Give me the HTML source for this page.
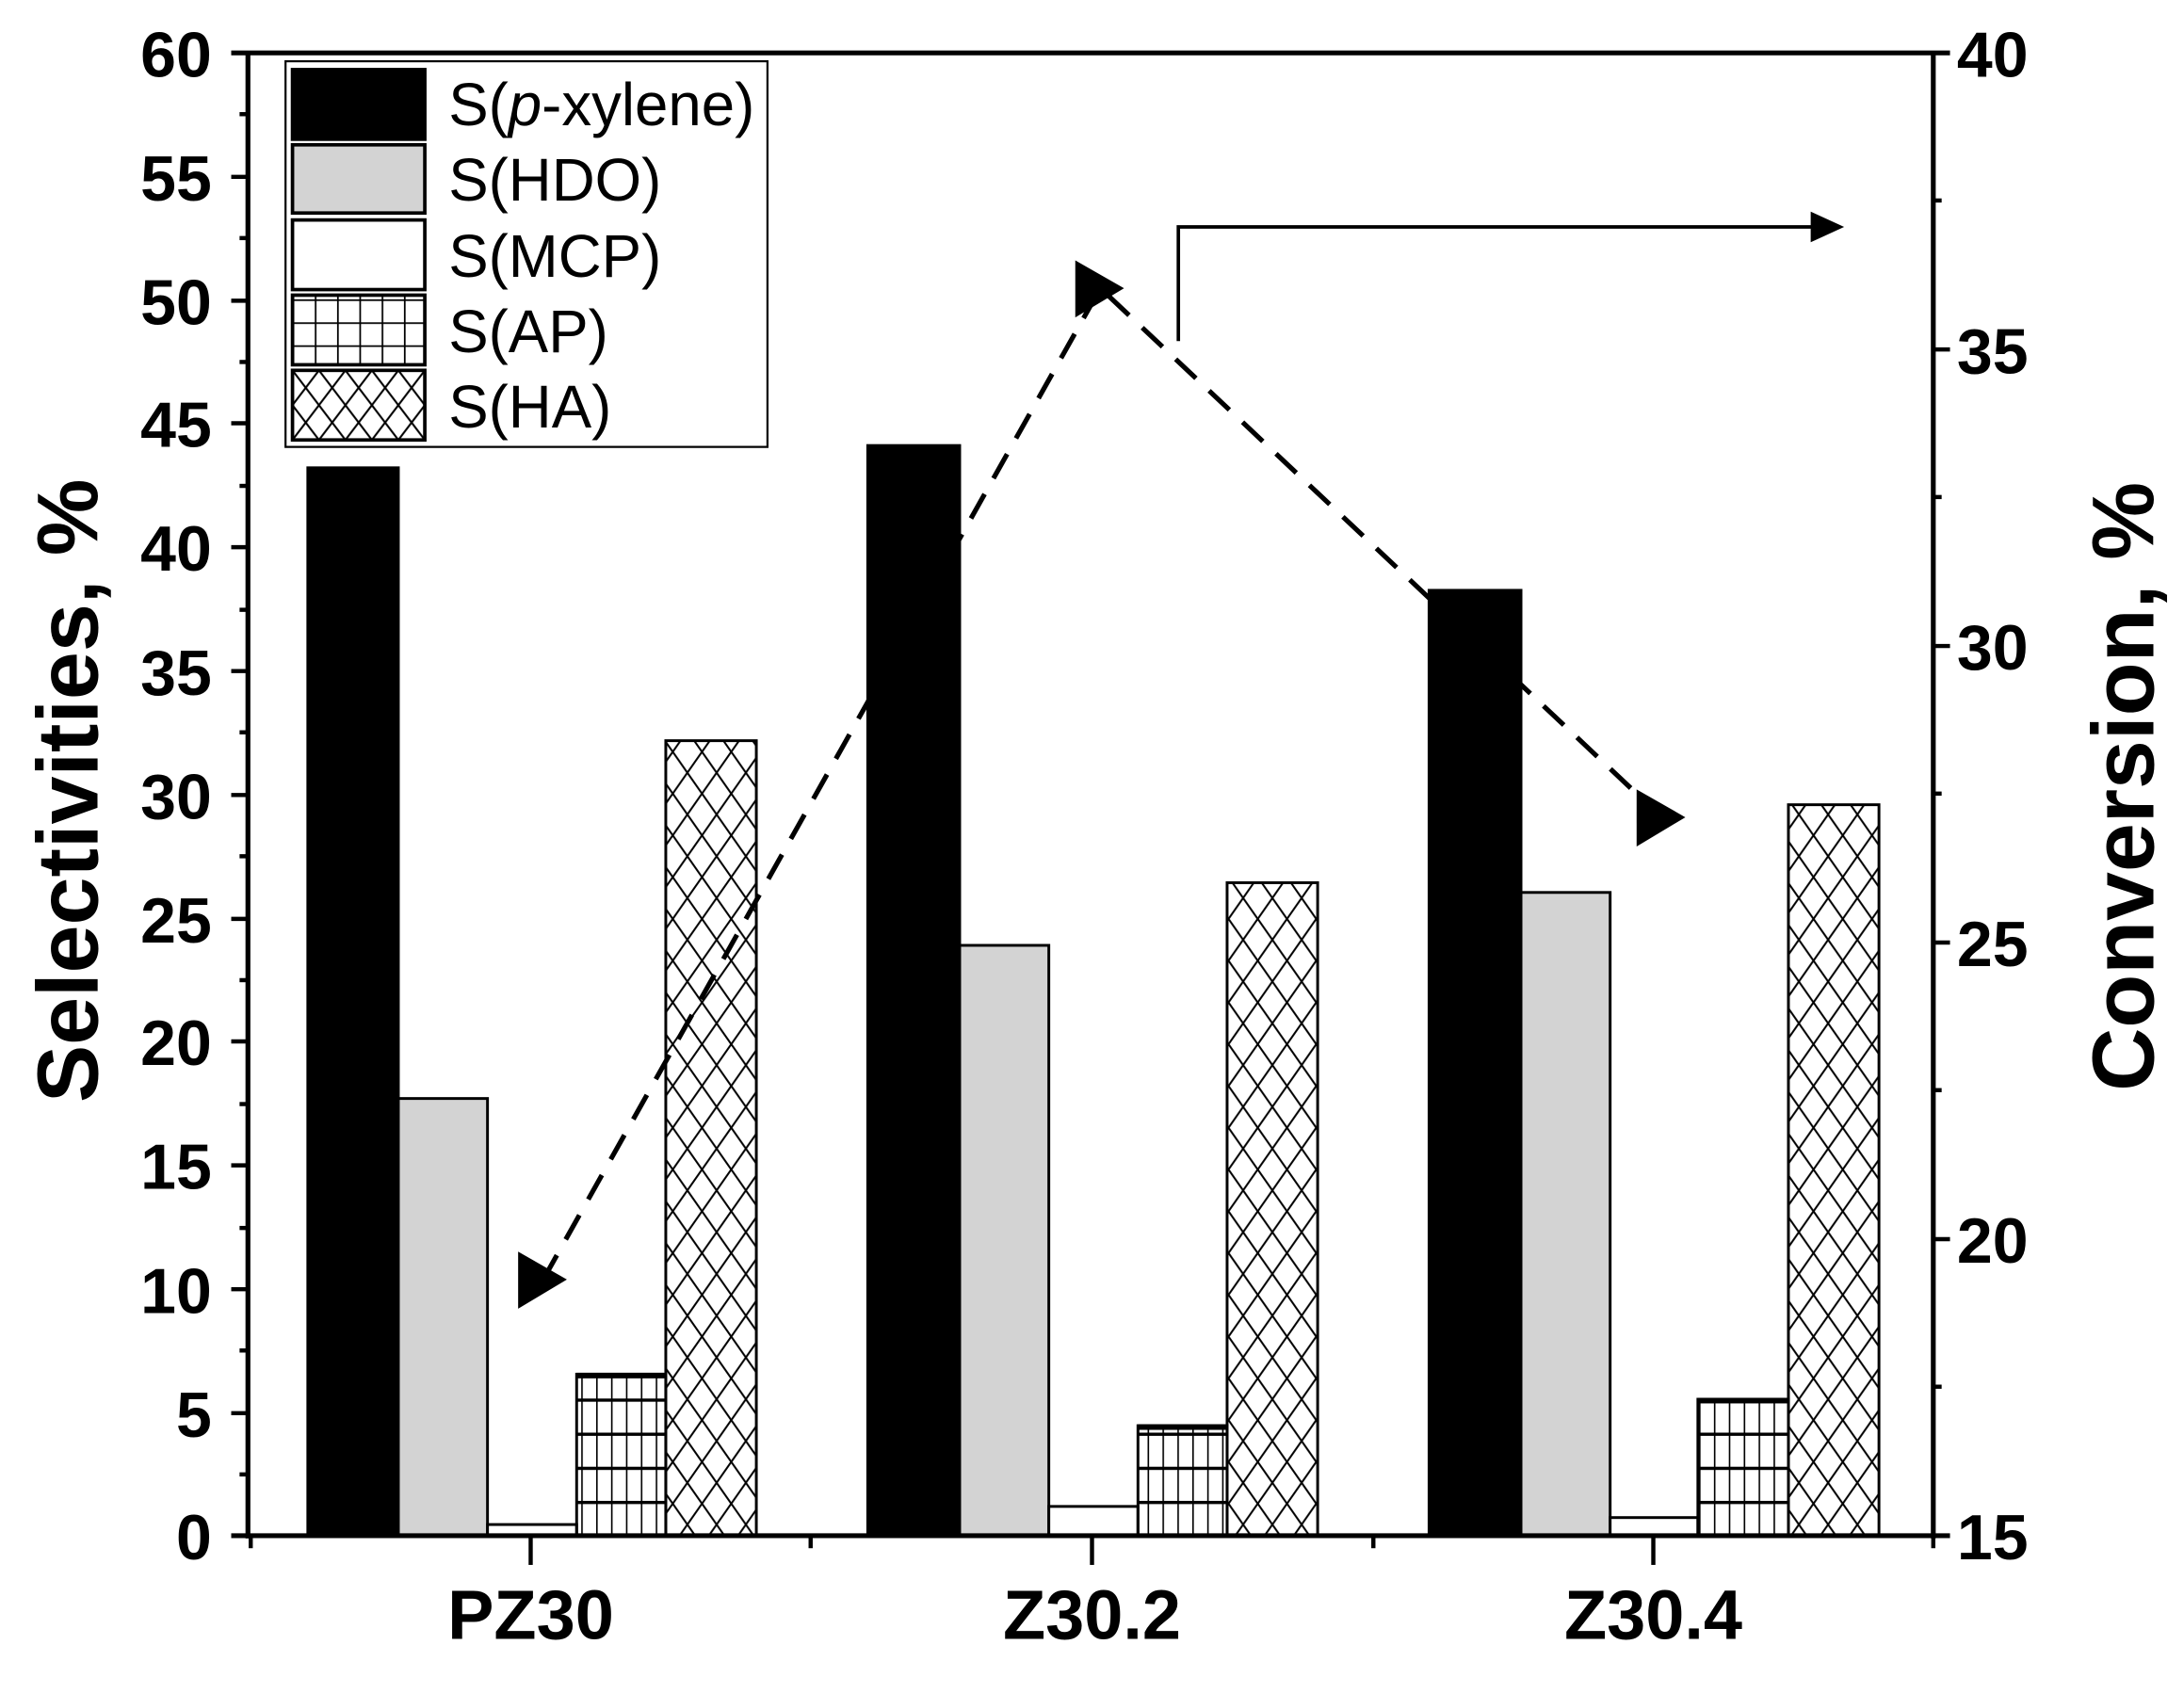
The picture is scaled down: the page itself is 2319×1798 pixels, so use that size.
<!DOCTYPE html>
<html><head><meta charset="utf-8"><style>html,body{margin:0;padding:0;background:#fff}svg{display:block}</style></head>
<body>
<svg width="2319" height="1798" viewBox="0 0 1568 1216" preserveAspectRatio="none" xmlns="http://www.w3.org/2000/svg" font-family="Liberation Sans, sans-serif">
<defs>
<pattern id="ap" patternUnits="userSpaceOnUse" x="0" y="0" width="10.7" height="24.5">
<line x1="0.5" y1="0" x2="0.5" y2="24.5" stroke="#000" stroke-width="1.2"/>
<line x1="0" y1="1" x2="10.7" y2="1" stroke="#000" stroke-width="2.6"/>
</pattern>
<pattern id="ha" patternUnits="userSpaceOnUse" x="0" y="0" width="21" height="30">
<line x1="0" y1="0" x2="21" y2="30" stroke="#000" stroke-width="1.4"/>
<line x1="21" y1="0" x2="0" y2="30" stroke="#000" stroke-width="1.4"/>
</pattern>
<pattern id="apL" patternUnits="userSpaceOnUse" x="210" y="50" width="16" height="16.5">
<line x1="0.5" y1="0" x2="0.5" y2="16.5" stroke="#000" stroke-width="1.4"/>
<line x1="0" y1="0.5" x2="16" y2="0.5" stroke="#000" stroke-width="1.4"/>
</pattern>
<pattern id="haL" patternUnits="userSpaceOnUse" x="210" y="266" width="19" height="25">
<line x1="0" y1="0" x2="19" y2="25" stroke="#000" stroke-width="1.4"/>
<line x1="19" y1="0" x2="0" y2="25" stroke="#000" stroke-width="1.4"/>
</pattern>
</defs>

<polyline points="390,919 790,207 1193,587" fill="none" stroke="#000" stroke-width="3.5" stroke-dasharray="20,13"/>

<g stroke="#000" stroke-width="2">
<rect x="221" y="336" width="65" height="767" fill="#000"/>
<rect x="286" y="789" width="64" height="314" fill="#d3d3d3"/>
<rect x="350" y="1095" width="64" height="8" fill="#fff"/>
<rect x="414" y="987" width="64" height="116" fill="url(#ap)"/>
<rect x="478" y="532" width="65" height="571" fill="url(#ha)"/>

<rect x="623" y="320" width="66" height="783" fill="#000"/>
<rect x="689" y="679" width="64" height="424" fill="#d3d3d3"/>
<rect x="753" y="1082" width="64" height="21" fill="#fff"/>
<rect x="817" y="1024" width="64" height="79" fill="url(#ap)"/>
<rect x="881" y="634" width="65" height="469" fill="url(#ha)"/>

<rect x="1026" y="424" width="66" height="679" fill="#000"/>
<rect x="1092" y="641" width="64" height="462" fill="#d3d3d3"/>
<rect x="1156" y="1090" width="63" height="13" fill="#fff"/>
<rect x="1219" y="1005" width="65" height="98" fill="url(#ap)"/>
<rect x="1284" y="578" width="65" height="525" fill="url(#ha)"/>
</g>
<g fill="#000">
<rect x="414" y="986" width="64" height="4"/><rect x="817" y="1023" width="64" height="4"/><rect x="1219" y="1004" width="65" height="4"/>
</g>

<polygon points="372,899 372,940 407,919" fill="#000"/>
<polygon points="772,187 772,228 807,207" fill="#000"/>
<polygon points="1175,567 1175,608 1210,587" fill="#000"/>

<polyline points="846,245 846,163 1305,163" fill="none" stroke="#000" stroke-width="2.5"/>
<polygon points="1300,152 1300,174 1324,163" fill="#000"/>

<g stroke="#000" stroke-width="3.5" fill="none">
<line x1="178" y1="37" x2="178" y2="1105"/>
<line x1="1388" y1="37" x2="1388" y2="1105"/>
<line x1="166" y1="38" x2="1400" y2="38"/>
<line x1="166" y1="1103" x2="1400" y2="1103"/>
</g>
<g stroke="#000" stroke-width="3">
<line x1="166" y1="38" x2="178" y2="38"/><line x1="166" y1="127" x2="178" y2="127"/><line x1="166" y1="216" x2="178" y2="216"/><line x1="166" y1="304" x2="178" y2="304"/><line x1="166" y1="393" x2="178" y2="393"/><line x1="166" y1="482" x2="178" y2="482"/><line x1="166" y1="571" x2="178" y2="571"/><line x1="166" y1="660" x2="178" y2="660"/><line x1="166" y1="748" x2="178" y2="748"/><line x1="166" y1="837" x2="178" y2="837"/><line x1="166" y1="926" x2="178" y2="926"/><line x1="166" y1="1015" x2="178" y2="1015"/>
<line x1="172" y1="82" x2="178" y2="82"/><line x1="172" y1="171" x2="178" y2="171"/><line x1="172" y1="260" x2="178" y2="260"/><line x1="172" y1="349" x2="178" y2="349"/><line x1="172" y1="438" x2="178" y2="438"/><line x1="172" y1="526" x2="178" y2="526"/><line x1="172" y1="615" x2="178" y2="615"/><line x1="172" y1="704" x2="178" y2="704"/><line x1="172" y1="793" x2="178" y2="793"/><line x1="172" y1="882" x2="178" y2="882"/><line x1="172" y1="970" x2="178" y2="970"/><line x1="172" y1="1059" x2="178" y2="1059"/>
<line x1="1388" y1="251" x2="1400" y2="251"/><line x1="1388" y1="464" x2="1400" y2="464"/><line x1="1388" y1="677" x2="1400" y2="677"/><line x1="1388" y1="890" x2="1400" y2="890"/>
<line x1="1388" y1="144" x2="1394" y2="144"/><line x1="1388" y1="357" x2="1394" y2="357"/><line x1="1388" y1="570" x2="1394" y2="570"/><line x1="1388" y1="783" x2="1394" y2="783"/><line x1="1388" y1="996" x2="1394" y2="996"/>
<line x1="381" y1="1103" x2="381" y2="1124"/><line x1="784" y1="1103" x2="784" y2="1124"/><line x1="1187" y1="1103" x2="1187" y2="1124"/>
<line x1="180" y1="1103" x2="180" y2="1112"/><line x1="582" y1="1103" x2="582" y2="1112"/><line x1="986" y1="1103" x2="986" y2="1112"/><line x1="1388" y1="1103" x2="1388" y2="1112"/>
</g>

<g font-weight="bold" font-size="46" text-anchor="end" fill="#000">
<text x="152" y="55">60</text><text x="152" y="144">55</text><text x="152" y="233">50</text><text x="152" y="321">45</text><text x="152" y="410">40</text><text x="152" y="499">35</text><text x="152" y="588">30</text><text x="152" y="677">25</text><text x="152" y="765">20</text><text x="152" y="854">15</text><text x="152" y="943">10</text><text x="152" y="1032">5</text><text x="152" y="1120">0</text>
</g>
<g font-weight="bold" font-size="46" text-anchor="start" fill="#000">
<text x="1405" y="55">40</text><text x="1405" y="268">35</text><text x="1405" y="481">30</text><text x="1405" y="694">25</text><text x="1405" y="907">20</text><text x="1405" y="1120">15</text>
</g>
<g font-weight="bold" font-size="50" text-anchor="middle" fill="#000">
<text x="381" y="1177">PZ30</text><text x="784" y="1177">Z30.2</text><text x="1187" y="1177">Z30.4</text>
</g>
<text transform="translate(70,568) rotate(-90)" font-weight="bold" font-size="62" text-anchor="middle">Selectivities, %</text>
<text transform="translate(1546,565) rotate(-90)" font-weight="bold" font-size="63" text-anchor="middle">Conversion, %</text>

<rect x="205" y="44" width="346" height="277" fill="#fff" stroke="#000" stroke-width="1.5"/>
<g stroke="#000" stroke-width="2.5">
<rect x="210" y="50" width="95" height="50" fill="#000"/>
<rect x="210" y="104" width="95" height="49" fill="#d3d3d3"/>
<rect x="210" y="158" width="95" height="50" fill="#fff"/>
<rect x="210" y="212" width="95" height="50" fill="url(#apL)"/>
<rect x="210" y="266" width="95" height="50" fill="url(#haL)"/>
</g>
<g font-size="43" fill="#000">
<text x="322" y="90">S(<tspan font-style="italic">p</tspan>-xylene)</text>
<text x="322" y="144">S(HDO)</text>
<text x="322" y="199">S(MCP)</text>
<text x="322" y="253">S(AP)</text>
<text x="322" y="307">S(HA)</text>
</g>
</svg>
</body></html>
